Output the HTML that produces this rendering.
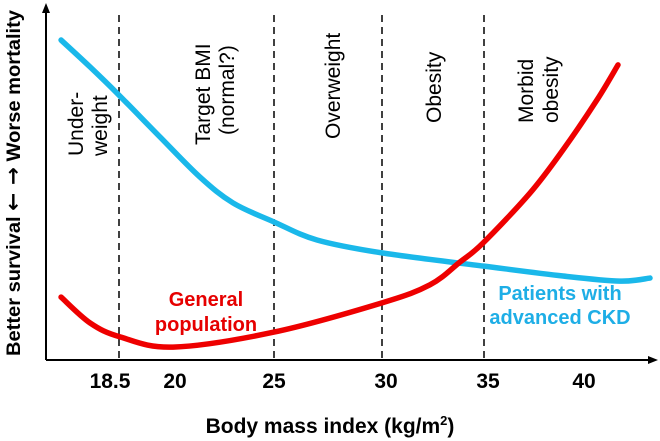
<!DOCTYPE html>
<html><head><meta charset="utf-8">
<style>
html,body{margin:0;padding:0;background:#fff;}
svg{display:block;font-family:"Liberation Sans",Arial,sans-serif;}
</style></head>
<body>
<svg id="chart" width="660" height="441" viewBox="0 0 660 441">
  <g id="grid"></g>
  <g id="series"></g>
  <line x1="46" y1="360" x2="46" y2="10" stroke="#000" stroke-width="2"/>
  <polygon points="46,3 42,13 50,13" fill="#000"/>
  <line x1="46" y1="360" x2="650" y2="360" stroke="#000" stroke-width="2"/>
  <polygon points="658,360 648,356 648,364" fill="#000"/>
  <g id="ticks"></g>
  <text x="330" y="433" text-anchor="middle" font-size="21" font-weight="bold">Body mass index (kg/m<tspan font-size="13" dy="-8">2</tspan><tspan dy="8">)</tspan></text>
  <text transform="translate(20,356) rotate(-90)" font-size="19.5" font-weight="bold" textLength="346" lengthAdjust="spacingAndGlyphs">Better survival <tspan font-family="DejaVu Sans" font-size="21">← →</tspan> Worse mortality</text>
  <g font-size="21" fill="#000">
    <text transform="translate(83,156) rotate(-90)">Under-</text>
    <text transform="translate(107,156) rotate(-90)">weight</text>
    <text transform="translate(210,145) rotate(-90)">Target BMI</text>
    <text transform="translate(234,135) rotate(-90)">(normal?)</text>
    <text transform="translate(340,139) rotate(-90)">Overweight</text>
    <text transform="translate(441,123) rotate(-90)">Obesity</text>
    <text transform="translate(533,123) rotate(-90)">Morbid</text>
    <text transform="translate(558,123) rotate(-90)">obesity</text>
  </g>
  <g font-size="20" font-weight="bold" fill="#e60000" text-anchor="middle">
    <text x="206" y="306">General</text>
    <text x="206" y="331">population</text>
  </g>
  <g font-size="20" font-weight="bold" fill="#1eaee6" text-anchor="middle">
    <text x="560" y="300">Patients with</text>
    <text x="560" y="324">advanced CKD</text>
  </g>
</svg>
<script>
const tickValues = [18.5, 20, 25, 30, 35, 40];
const tickLabels = ["18.5", "20", "25", "30", "35", "40"];
const dividerValues = [18.5, 25, 30, 35];
const ckdBmi = [16.86, 17.68, 18.5, 19.66, 21.37, 22.99, 25, 26.99, 30, 35, 38.95, 41.8, 43.3];
const ckdRisk = [94.1, 86.2, 77.9, 65.6, 53.8, 46.2, 40.6, 35.3, 31.5, 27.6, 24.7, 23.2, 24.1];
const genBmi = [16.86, 17.68, 18.53, 20.05, 25, 30, 32.35, 33.82, 34.95, 37.3, 38.95, 40.65, 41.7];
const genRisk = [18.5, 10.9, 6.8, 3.8, 8.2, 16.8, 22.1, 28.8, 34.4, 49.1, 61.8, 76.5, 86.8];

// axis: piecewise-linear (the figure's axis is not uniformly spaced)
const axisBreaks = [18.5, 20, 25, 30, 35, 40];
const axisPix = [119, 172, 274, 382, 484, 584];
function xScale(v){
  const n = axisBreaks.length;
  let i = 0;
  if (v <= axisBreaks[0]) i = 0;
  else if (v >= axisBreaks[n-1]) i = n-2;
  else { while (v > axisBreaks[i+1]) i++; }
  const t = (v - axisBreaks[i]) / (axisBreaks[i+1] - axisBreaks[i]);
  return axisPix[i] + t * (axisPix[i+1] - axisPix[i]);
}
function yScale(v){ return 360 - v * 3.4; }

const NS = "http://www.w3.org/2000/svg";
const grid = document.getElementById('grid');
dividerValues.forEach(v => {
  const l = document.createElementNS(NS, 'line');
  const x = xScale(v);
  l.setAttribute('x1', x); l.setAttribute('x2', x);
  l.setAttribute('y1', 15); l.setAttribute('y2', 360);
  l.setAttribute('stroke', '#000'); l.setAttribute('stroke-width', '1.5');
  l.setAttribute('stroke-dasharray', '7,5');
  
  
  grid.appendChild(l);
});
const ticks = document.getElementById('ticks');
tickValues.forEach((v, i) => {
  const t = document.createElementNS(NS, 'text');
  t.setAttribute('x', xScale(v) + (v === 18.5 ? -9 : (v === 20 ? 3 : (v === 30 || v === 35 ? 4 : 0))));
  t.setAttribute('y', 388);
  t.setAttribute('text-anchor', 'middle');
  t.setAttribute('font-size', '21');
  t.setAttribute('font-weight', 'bold');
  t.textContent = tickLabels[i];
  
  
  ticks.appendChild(t);
});
function smoothPath(xs, ys){
  const p = xs.map((x, i) => [xScale(x), yScale(ys[i])]);
  let d = 'M' + p[0][0] + ',' + p[0][1];
  for (let i = 0; i < p.length - 1; i++){
    const p0 = p[i-1] || p[i], p1 = p[i], p2 = p[i+1], p3 = p[i+2] || p2;
    const c1 = [p1[0] + (p2[0]-p0[0])/6, p1[1] + (p2[1]-p0[1])/6];
    const c2 = [p2[0] - (p3[0]-p1[0])/6, p2[1] - (p3[1]-p1[1])/6];
    d += ' C' + c1 + ' ' + c2 + ' ' + p2;
  }
  return d;
}
const series = document.getElementById('series');
const ckd = document.createElementNS(NS, 'path');
ckd.setAttribute('d', smoothPath(ckdBmi, ckdRisk));
ckd.setAttribute('fill', 'none'); ckd.setAttribute('stroke', '#1ab8ea');
ckd.setAttribute('stroke-width', '5.5'); ckd.setAttribute('stroke-linecap', 'round');


series.appendChild(ckd);
const gen = document.createElementNS(NS, 'path');
gen.setAttribute('d', smoothPath(genBmi, genRisk));
gen.setAttribute('fill', 'none'); gen.setAttribute('stroke', '#ee0000');
gen.setAttribute('stroke-width', '5.5'); gen.setAttribute('stroke-linecap', 'round');


series.appendChild(gen);
</script>
</body></html>
